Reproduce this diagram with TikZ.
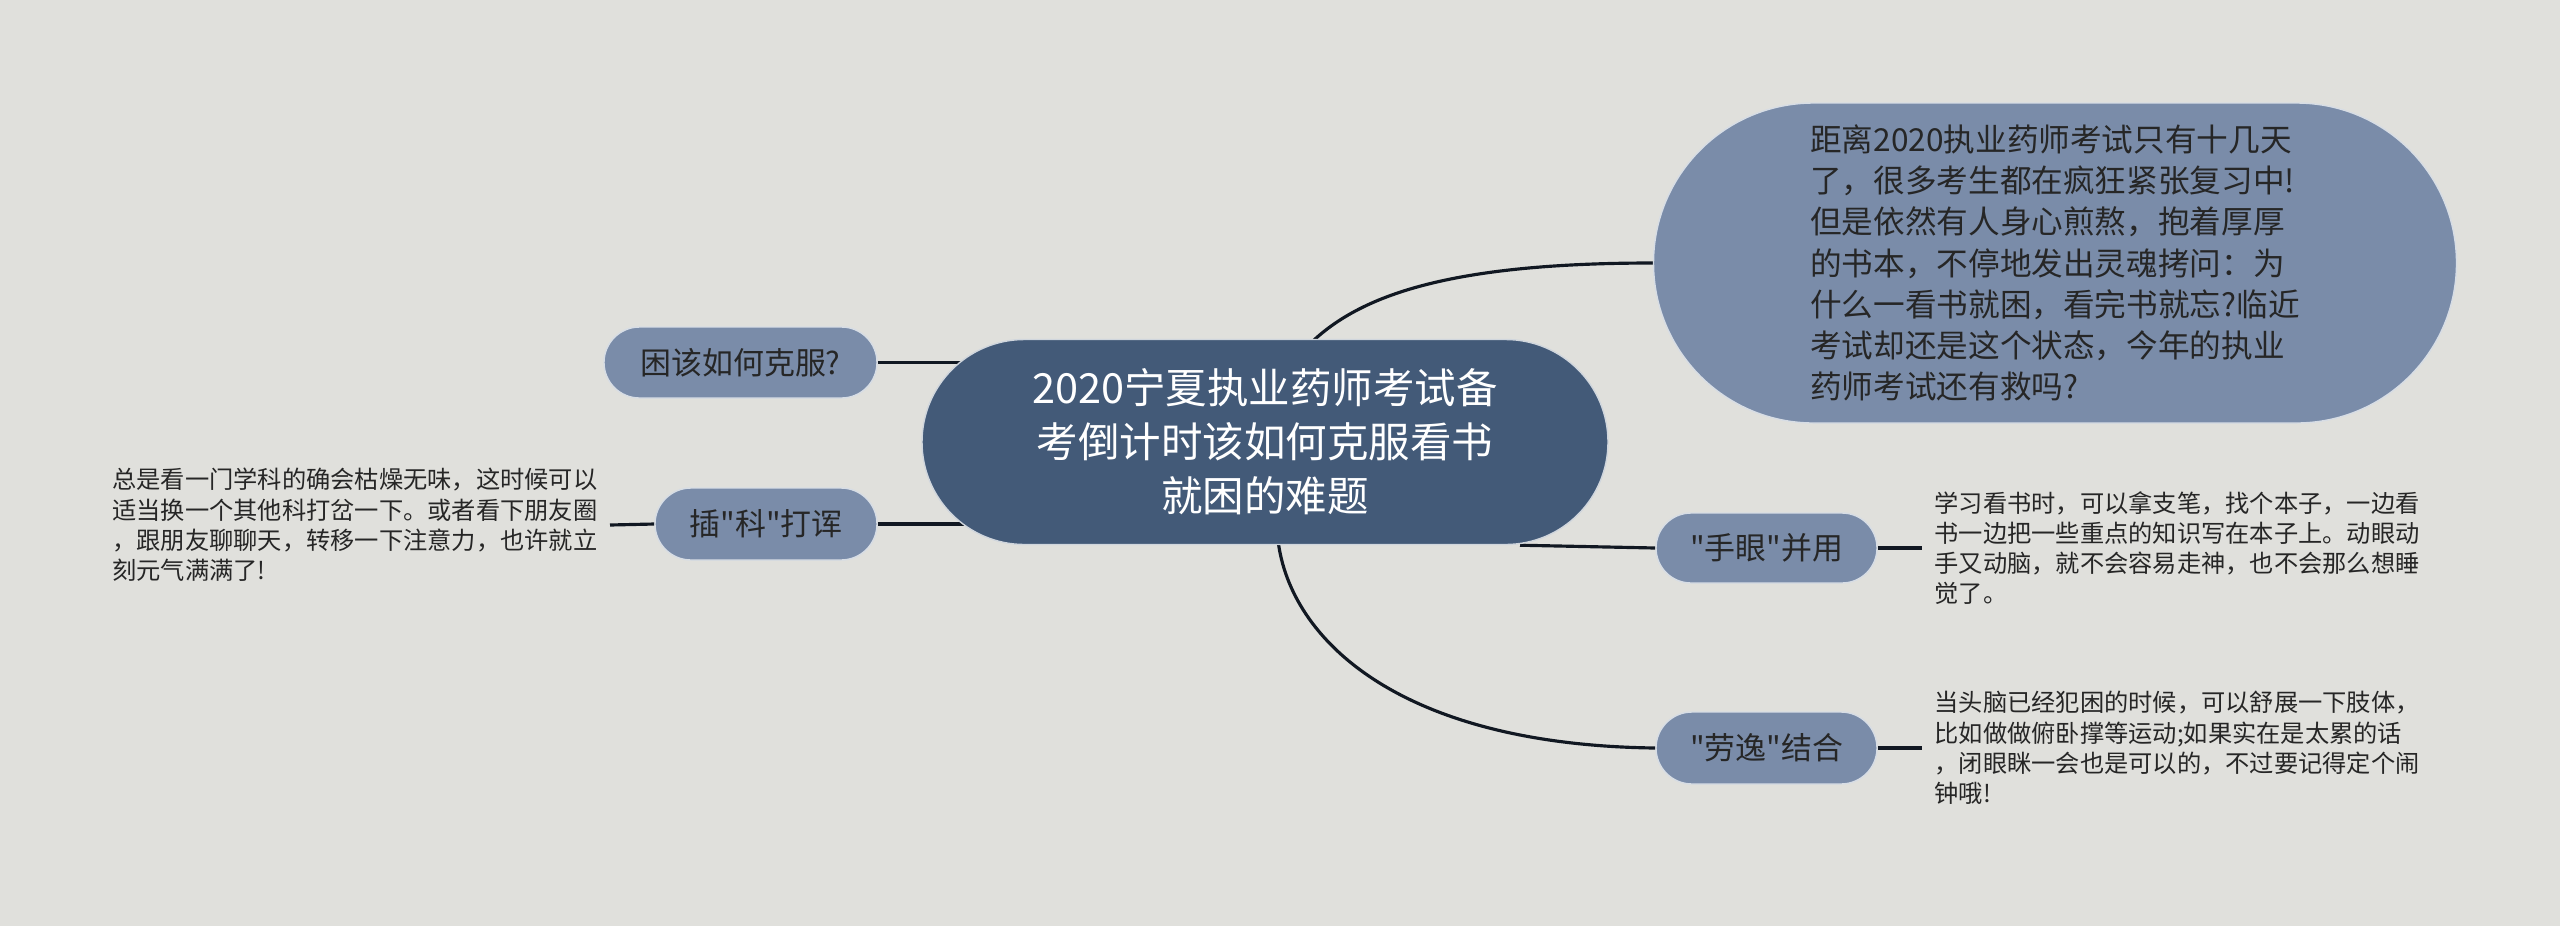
\documentclass[tikz,border=0pt]{standalone}
\usepackage{fontspec}
\setmainfont{Noto Sans CJK SC}[Ligatures=TeXOff]
\usetikzlibrary{shapes.misc,backgrounds}
\definecolor{mmbg}{HTML}{E0E0DC}
\definecolor{rootfill}{HTML}{435A78}
\definecolor{topicfill}{HTML}{7A8CA9}
\definecolor{inkline}{HTML}{111822}
\definecolor{inktext}{HTML}{262626}
\tikzset{
  rootbox/.style={rounded rectangle, fill=rootfill, draw=white!75!rootfill, line width=0.4pt,
                  inner sep=0pt, align=center, text=white, font=\fontsize{11.8}{15.4}\selectfont},
  topicbox/.style={rounded rectangle, fill=topicfill, draw=white!70!topicfill, line width=0.4pt,
                   inner sep=0pt, align=center, text=inktext, font=\fontsize{8.8}{11.7}\selectfont},
  notetext/.style={inner xsep=0.12cm, inner ysep=0pt, align=left, text=inktext,
                   font=\fontsize{6.9}{8.6}\selectfont},
  link/.style={draw=inkline, line width=0.9pt}}

\begin{document}
\begin{tikzpicture}
    \useasboundingbox (0,0) rectangle (25.6,-9.26);
    \node[rootbox, minimum width=6.86cm, minimum height=2.05cm] (root) at (12.65,-4.42)
      {2020宁夏执业药师考试备\\考倒计时该如何克服看书\\就困的难题};
    \node[topicbox, minimum width=8.03cm, minimum height=3.2cm, align=left,
          font=\fontsize{9}{11.7}\selectfont] (intro) at (20.55,-2.63)
      {距离2020执业药师考试只有十几天\\了，很多考生都在疯狂紧张复习中!\\
       但是依然有人身心煎熬，抱着厚厚\\的书本，不停地发出灵魂拷问：为\\
       什么一看书就困，看完书就忘?临近\\考试却还是这个状态，今年的执业\\
       药师考试还有救吗?};
    \node[topicbox, minimum width=2.73cm, minimum height=0.71cm] (kun) at (7.405,-3.625) {困该如何克服?};
    \node[topicbox, minimum width=2.22cm, minimum height=0.72cm] (chake) at (7.66,-5.24) {插"科"打诨};
    \node[topicbox, minimum width=2.21cm, minimum height=0.70cm] (shouyan) at (17.665,-5.48) {"手眼"并用};
    \node[topicbox, minimum width=2.21cm, minimum height=0.72cm] (laoyi) at (17.665,-7.48) {"劳逸"结合};
    \node[notetext, anchor=east] (chakenote) at (6.10,-5.25)
      {总是看一门学科的确会枯燥无味，这时候可以\\适当换一个其他科打岔一下。或者看下朋友圈\\
       ，跟朋友聊聊天，转移一下注意力，也许就立\\刻元气满满了!};
    \node[notetext, anchor=west] (shouyannote) at (19.22,-5.48)
      {学习看书时，可以拿支笔，找个本子，一边看\\书一边把一些重点的知识写在本子上。动眼动\\
       手又动脑，就不会容易走神，也不会那么想睡\\觉了。};
    \node[notetext, anchor=west] (laoyinote) at (19.22,-7.48)
      {当头脑已经犯困的时候，可以舒展一下肢体，\\比如做做俯卧撑等运动;如果实在是太累的话\\
       ，闭眼眯一会也是可以的，不过要记得定个闹\\钟哦!};
    \begin{scope}[on background layer]
      \fill[mmbg] (0,0) rectangle (25.6,-9.26);
      \draw[link] ([xshift=0.45cm,yshift=-0.05cm]root.north)
        .. controls (13.60,-2.95) and (14.50,-2.63) .. (intro.west);
      \draw[link] (kun.east) -- (kun.east -| root.center);
      \draw[link] (chake.east) -- (chake.east -| root.center);
      \draw[link] ([xshift=2.55cm]root.south) -- (shouyan.west);
      \draw[link] ([xshift=0.13cm,yshift=0.05cm]root.south)
        .. controls (12.90,-6.40) and (14.00,-7.45) .. (laoyi.west);
      \draw[link] (chake.west) -- (chakenote.east);
      \draw[link] (shouyan.east) -- (shouyannote.west);
      \draw[link] (laoyi.east) -- (laoyinote.west);
    \end{scope}
\end{tikzpicture}
\end{document}
